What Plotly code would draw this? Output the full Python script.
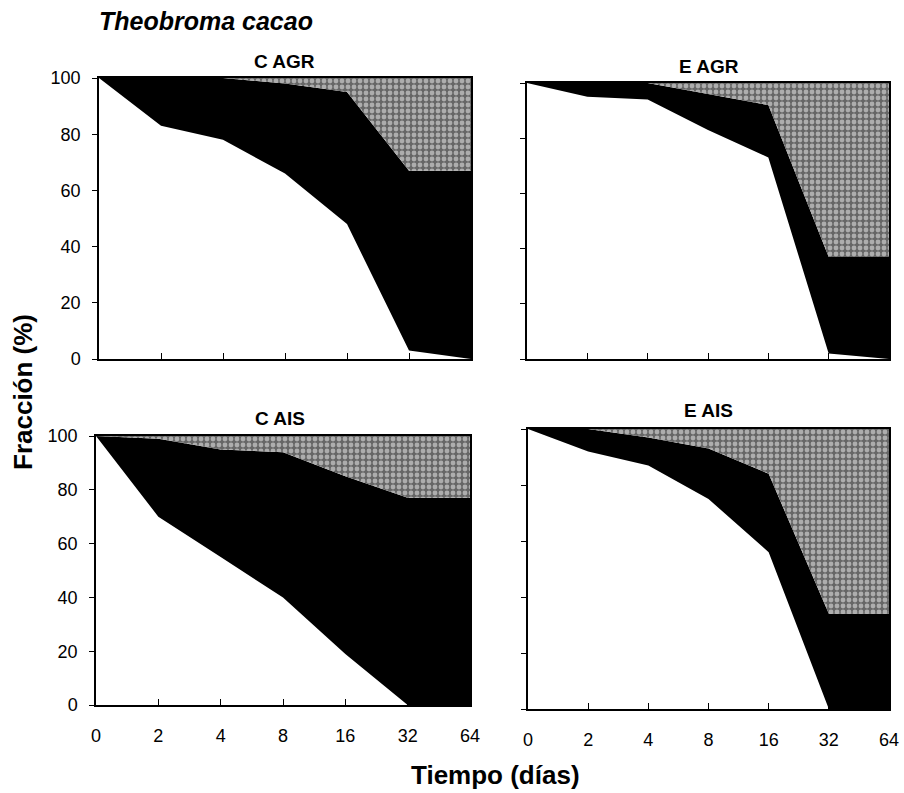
import plotly.graph_objects as go

# ---------------- data ----------------
dias = ["0", "2", "4", "8", "16", "32", "64"]
panel_names = ["C AGR", "E AGR", "C AIS", "E AIS"]

# fractions (%) per layer: white (bottom), black (middle), textured gray (top)
c_agr_white = [100, 83, 78, 66, 48, 3, 0]
c_agr_black = [0, 17, 22, 32, 47, 64, 67]
c_agr_gray = [0, 0, 0, 2, 5, 33, 33]

e_agr_white = [100, 95, 94, 83, 73, 2, 0]
e_agr_black = [0, 5, 6, 13, 19, 35, 37]
e_agr_gray = [0, 0, 0, 4, 8, 63, 63]

c_ais_white = [100, 70, 55, 40, 19, 0, 0]
c_ais_black = [0, 29, 40, 54, 66, 77, 77]
c_ais_gray = [0, 1, 5, 6, 15, 23, 23]

e_ais_white = [100, 92, 87, 75, 56, 0, 0]
e_ais_black = [0, 8, 10, 18, 28, 34, 34]
e_ais_gray = [0, 0, 3, 7, 16, 66, 66]

y_ticks = [0, 20, 40, 60, 80, 100]

panels = [
    (c_agr_white, c_agr_black, c_agr_gray),
    (e_agr_white, e_agr_black, e_agr_gray),
    (c_ais_white, c_ais_black, c_ais_gray),
    (e_ais_white, e_ais_black, e_ais_gray),
]

W, H = 904, 793


def px(x):
    return x / W


def py(y):
    return 1 - y / H


# plot area boxes in page pixels: (x0, x1, ytop, ybottom)
boxes = [
    (99, 471, 78, 359),
    (527, 889, 83, 359),
    (96, 470, 436, 705),
    (528, 889, 429, 709),
]

FONT = "Arial, Liberation Sans, sans-serif"
fig = go.Figure()
xs = list(range(len(dias)))

for i, (white, black, gray) in enumerate(panels):
    ax = "" if i == 0 else str(i + 1)
    xa, ya = "x" + ax, "y" + ax
    sg = "s" + str(i)
    fig.add_trace(go.Scatter(x=xs, y=white, xaxis=xa, yaxis=ya, stackgroup=sg,
                             mode="none", fillcolor="white", showlegend=False,
                             hoverinfo="skip"))
    fig.add_trace(go.Scatter(x=xs, y=black, xaxis=xa, yaxis=ya, stackgroup=sg,
                             mode="none", fillcolor="black", showlegend=False,
                             hoverinfo="skip"))
    fig.add_trace(go.Scatter(x=xs, y=gray, xaxis=xa, yaxis=ya, stackgroup=sg,
                             mode="none", fillcolor="#8c8c8c",
                             fillpattern=dict(shape=".", bgcolor="#666666",
                                              fgcolor="#f4f4f4", size=6,
                                              solidity=0.5),
                             showlegend=False, hoverinfo="skip"))

    x0, x1, yt, yb = boxes[i]
    left = i in (0, 2)
    bottom = i in (2, 3)
    fig.layout["xaxis" + ax] = dict(
        domain=[px(x0), px(x1)], anchor=ya, range=[0, len(dias) - 1],
        tickmode="array", tickvals=xs, ticktext=dias, showticklabels=bottom,
        ticks="inside", ticklen=6, tickcolor="black", tickwidth=1,
        showline=True, linecolor="black", linewidth=1.5, mirror=True,
        showgrid=False, zeroline=False, ticklabelstandoff=14, automargin=False,
        tickfont=dict(family=FONT, size=18, color="black"))
    fig.layout["yaxis" + ax] = dict(
        domain=[py(yb), py(yt)], anchor=xa, range=[0, 100],
        tickmode="array", tickvals=y_ticks, showticklabels=left,
        ticks="outside", ticklen=5, tickcolor="black", tickwidth=1,
        showline=True, linecolor="black", linewidth=1.5, mirror=True,
        showgrid=False, zeroline=False, ticklabelstandoff=8, automargin=False,
        tickfont=dict(family=FONT, size=18, color="black"))

title_pos = [(284, 62), (709, 67), (280, 418), (708, 411)]
annotations = []
for name, (tx, ty) in zip(panel_names, title_pos):
    annotations.append(dict(text="<b>" + name + "</b>", x=px(tx), y=py(ty),
                            xref="paper", yref="paper", showarrow=False,
                            xanchor="center", yanchor="middle",
                            font=dict(family=FONT, size=19, color="black")))
annotations.append(dict(text="<b><i>Theobroma cacao</i></b>", x=px(206), y=py(21),
                        xref="paper", yref="paper", showarrow=False,
                        xanchor="center", yanchor="middle",
                        font=dict(family=FONT, size=25, color="black")))
annotations.append(dict(text="<b>Fracción (%)</b>", x=px(23), y=py(392),
                        xref="paper", yref="paper", showarrow=False, textangle=-90,
                        xanchor="center", yanchor="middle",
                        font=dict(family=FONT, size=26, color="black")))
annotations.append(dict(text="<b>Tiempo (días)</b>", x=px(496), y=py(775),
                        xref="paper", yref="paper", showarrow=False,
                        xanchor="center", yanchor="middle",
                        font=dict(family=FONT, size=26, color="black")))

fig.update_layout(width=W, height=H, margin=dict(l=0, r=0, t=0, b=0, autoexpand=False),
                  paper_bgcolor="white", plot_bgcolor="white",
                  annotations=annotations, showlegend=False)

fig.write_html("out.html")
